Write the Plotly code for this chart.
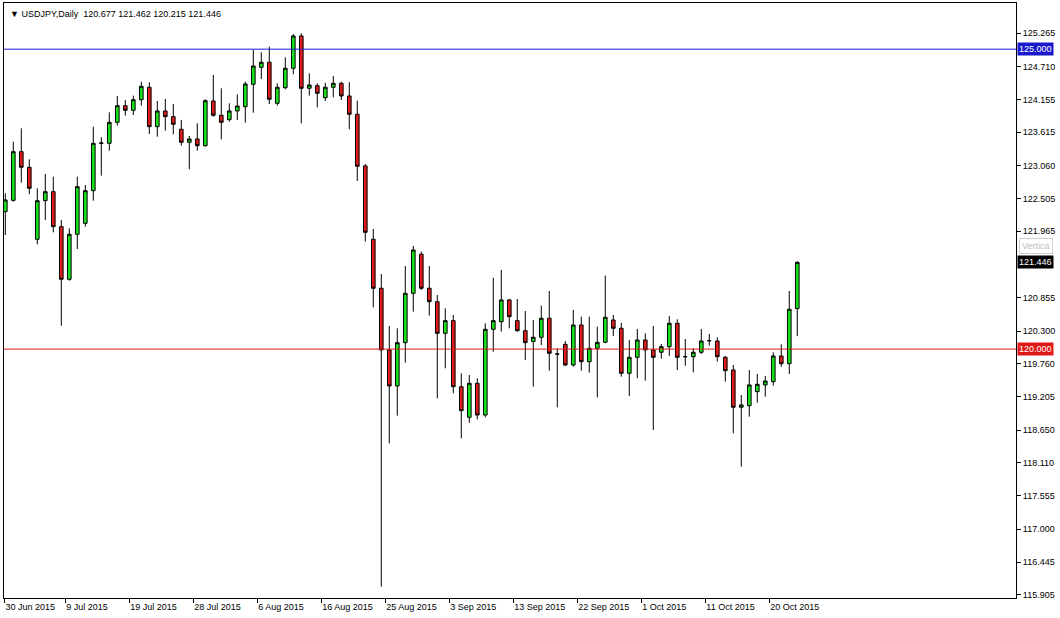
import pandas as pd
import plotly.graph_objects as go

# ---- data (USDJPY daily bars, broker with Sunday sessions) ----
dates = pd.bdate_range("2015-06-30", periods=100, freq="C",
                       weekmask="Sun Mon Tue Wed Thu Fri")

opens = [122.291, 122.480, 123.291, 123.031, 121.831, 122.474, 122.624, 122.041, 121.164, 121.914,
         122.097, 122.641, 123.431, 123.431, 123.781, 124.058, 123.981, 124.158, 124.365, 123.708,
         123.970, 123.875, 123.665, 123.448, 123.503, 123.391, 124.136, 123.898, 123.825, 123.970,
         124.041, 124.415, 124.698, 124.782, 124.098, 124.358, 124.682, 125.220, 124.348, 124.391,
         124.191, 124.365, 124.431, 124.220, 123.915, 123.053, 121.831, 121.014, 119.985, 119.385,
         120.107, 120.930, 121.581, 121.014, 120.790, 120.263, 120.474, 119.373, 118.863, 119.430,
         118.901, 120.330, 120.457, 120.819, 120.474, 120.307, 120.127, 120.197, 120.514, 119.918,
         120.080, 119.735, 120.402, 119.790, 120.013, 120.113, 120.485, 120.347, 119.597, 119.863,
         120.152, 119.985, 119.947, 120.040, 120.430, 119.873, 119.873, 119.947, 120.140, 120.135,
         119.863, 119.652, 119.030, 119.056, 119.290, 119.402, 119.457, 119.885, 119.757, 120.677]
highs = [122.598, 123.458, 123.681, 123.164, 122.681, 122.919, 122.874, 122.152, 122.014, 122.874,
         122.736, 123.708, 123.531, 123.948, 124.220, 124.153, 124.225, 124.458, 124.448, 124.136,
         124.170, 124.086, 123.820, 123.553, 123.765, 124.165, 124.570, 124.348, 124.098, 124.248,
         124.458, 124.987, 124.948, 125.042, 124.431, 124.865, 125.253, 125.265, 124.598, 124.431,
         124.441, 124.553, 124.458, 124.448, 124.141, 123.086, 122.002, 121.252, 120.385, 120.347,
         121.385, 121.719, 121.624, 121.385, 120.902, 120.680, 120.569, 119.597, 119.568, 119.513,
         120.430, 121.190, 121.319, 120.835, 120.835, 120.635, 120.485, 120.724, 120.969, 120.013,
         120.135, 120.652, 120.540, 120.540, 120.374, 121.224, 120.569, 120.440, 120.152, 120.335,
         120.263, 120.385, 120.085, 120.552, 120.497, 120.168, 120.013, 120.335, 120.252, 120.197,
         119.885, 119.735, 119.235, 119.652, 119.585, 119.552, 119.947, 120.080, 120.969, 121.462]
lows = [121.902, 122.458, 122.774, 122.581, 121.747, 122.152, 121.947, 120.390, 121.140, 121.669,
        122.041, 122.474, 122.891, 123.308, 123.725, 123.891, 123.903, 124.058, 123.586, 123.541,
        123.641, 123.581, 123.391, 122.998, 123.308, 123.374, 123.875, 123.498, 123.791, 123.820,
        123.774, 123.941, 124.503, 124.086, 124.058, 124.331, 124.581, 123.765, 124.225, 124.031,
        124.136, 124.198, 124.153, 123.665, 122.803, 121.791, 120.697, 116.039, 118.430, 118.890,
        119.773, 120.624, 120.985, 120.557, 119.180, 119.680, 119.263, 118.513, 118.773, 118.830,
        118.863, 119.957, 120.290, 120.347, 120.290, 119.818, 119.373, 120.068, 119.640, 119.030,
        119.718, 119.707, 119.640, 119.607, 119.196, 120.097, 120.218, 119.540, 119.218, 119.513,
        119.473, 118.651, 119.840, 119.885, 119.652, 119.723, 119.613, 119.918, 120.057, 119.790,
        119.457, 118.596, 118.039, 118.873, 119.106, 119.206, 119.390, 119.707, 119.585, 120.215]
closes = [122.486, 123.291, 123.031, 122.681, 122.474, 122.624, 122.041, 121.164, 121.914, 122.708,
          122.641, 123.431, 123.435, 123.781, 124.058, 123.981, 124.158, 124.381, 123.708, 123.970,
          123.875, 123.748, 123.448, 123.503, 123.391, 124.141, 123.898, 123.781, 123.970, 124.053,
          124.420, 124.720, 124.782, 124.165, 124.365, 124.682, 125.220, 124.348, 124.403, 124.265,
          124.365, 124.431, 124.220, 123.915, 123.048, 121.947, 121.014, 119.985, 119.385, 120.107,
          120.930, 121.652, 121.014, 120.790, 120.263, 120.474, 119.373, 118.973, 119.430, 118.901,
          120.330, 120.474, 120.819, 120.540, 120.307, 120.107, 120.197, 120.514, 119.930, 119.918,
          119.735, 120.402, 119.790, 120.013, 120.113, 120.530, 120.347, 119.597, 119.863, 120.152,
          119.985, 119.863, 120.040, 120.430, 119.863, 119.873, 119.947, 120.135, 120.140, 119.873,
          119.640, 119.030, 119.068, 119.402, 119.413, 119.468, 119.885, 119.757, 120.664, 121.446]

x_tick_labels = ["30 Jun 2015", "9 Jul 2015", "19 Jul 2015", "28 Jul 2015", "6 Aug 2015",
                 "16 Aug 2015", "25 Aug 2015", "3 Sep 2015", "13 Sep 2015", "22 Sep 2015",
                 "1 Oct 2015", "11 Oct 2015", "20 Oct 2015"]
y_tick_values = [125.265, 124.710, 124.155, 123.615, 123.060, 122.505, 121.965, 120.855,
                 120.300, 119.760, 119.205, 118.650, 118.110, 117.555, 117.000, 116.445, 115.905]

level_blue = 125.000
level_red = 120.000
symbol_text = "USDJPY,Daily"
tooltip_text = "Vertica"

# ---- build ----
X_RANGE = [-0.1625, 126.34]
date_labels = [f"{d.day} {d.strftime('%b %Y')}" for d in dates]
xs = list(range(len(dates)))
tick_pos = [max(date_labels.index(lbl) - 0.5, X_RANGE[0] + 0.05) for lbl in x_tick_labels]

FONT = "Liberation Sans, DejaVu Sans, Arial, sans-serif"
GREEN = "#18e018"
RED = "#dc1a1a"

fig = go.Figure()
fig.add_trace(go.Candlestick(
    x=xs, open=opens, high=highs, low=lows, close=closes,
    increasing=dict(line=dict(color="black", width=1), fillcolor=GREEN),
    decreasing=dict(line=dict(color="black", width=1), fillcolor=RED),
    whiskerwidth=0, hoverinfo="skip", showlegend=False,
))

fig.add_hline(y=level_blue, line=dict(color="#1a1acc", width=1))
fig.add_hline(y=level_red, line=dict(color="#e01818", width=1))

fig.update_layout(
    width=1060, height=618,
    margin=dict(l=4, r=44, t=3, b=20, autoexpand=False),
    paper_bgcolor="white", plot_bgcolor="white",
    boxgap=0.35,
    font=dict(family=FONT, size=9, color="black"),
    xaxis=dict(
        range=X_RANGE, rangeslider=dict(visible=False), automargin=False,
        showgrid=False, zeroline=False, fixedrange=True,
        showline=True, linecolor="black", linewidth=1, mirror=True,
        tickmode="array", tickvals=tick_pos, ticktext=x_tick_labels,
        ticks="outside", ticklen=4, tickcolor="black",
        ticklabelposition="outside right",
        tickfont=dict(family=FONT, size=9, color="black"),
    ),
    yaxis=dict(
        range=[115.850, 125.770], side="right", automargin=False,
        showgrid=False, zeroline=False, fixedrange=True,
        showline=True, linecolor="black", linewidth=1, mirror=True,
        tickmode="array", tickvals=y_tick_values,
        ticktext=[f"{v:.3f}" for v in y_tick_values],
        ticks="outside", ticklen=4, tickcolor="black",
        tickfont=dict(family=FONT, size=9, color="black"),
    ),
)

last = len(closes) - 1
header = (f"\u25bc {symbol_text}  {opens[last]:.3f} {highs[last]:.3f} "
          f"{lows[last]:.3f} {closes[last]:.3f}")
annotations = [
    dict(xref="paper", yref="paper", x=0, y=1, xanchor="left", yanchor="top",
         xshift=4, yshift=-4, text=header, showarrow=False,
         font=dict(family=FONT, size=9, color="black")),
    dict(xref="paper", yref="y", x=1, y=level_blue, xanchor="left", yanchor="middle",
         xshift=1, text=f"{level_blue:.3f}", showarrow=False, bgcolor="#1a1acc",
         borderpad=1, font=dict(family=FONT, size=9, color="white")),
    dict(xref="paper", yref="y", x=1, y=level_red, xanchor="left", yanchor="middle",
         xshift=1, text=f"{level_red:.3f}", showarrow=False, bgcolor="#e01818",
         borderpad=1, font=dict(family=FONT, size=9, color="white")),
    dict(xref="paper", yref="y", x=1, y=closes[last], xanchor="left", yanchor="middle",
         xshift=1, text=f"{closes[last]:.3f}", showarrow=False, bgcolor="black",
         borderpad=1, font=dict(family=FONT, size=9, color="white")),
    dict(xref="paper", yref="y", x=1, y=121.72, xanchor="left", yanchor="middle",
         xshift=3, text=tooltip_text, showarrow=False, bgcolor="white",
         bordercolor="#d0d0d0", borderwidth=1, borderpad=2,
         font=dict(family=FONT, size=9, color="#c0c0c0")),
]
fig.update_layout(annotations=annotations)

fig.write_html("out.html",
               config={"displayModeBar": False, "staticPlot": True},
               post_script="document.body.style.margin='0';document.body.style.overflow='hidden';")
